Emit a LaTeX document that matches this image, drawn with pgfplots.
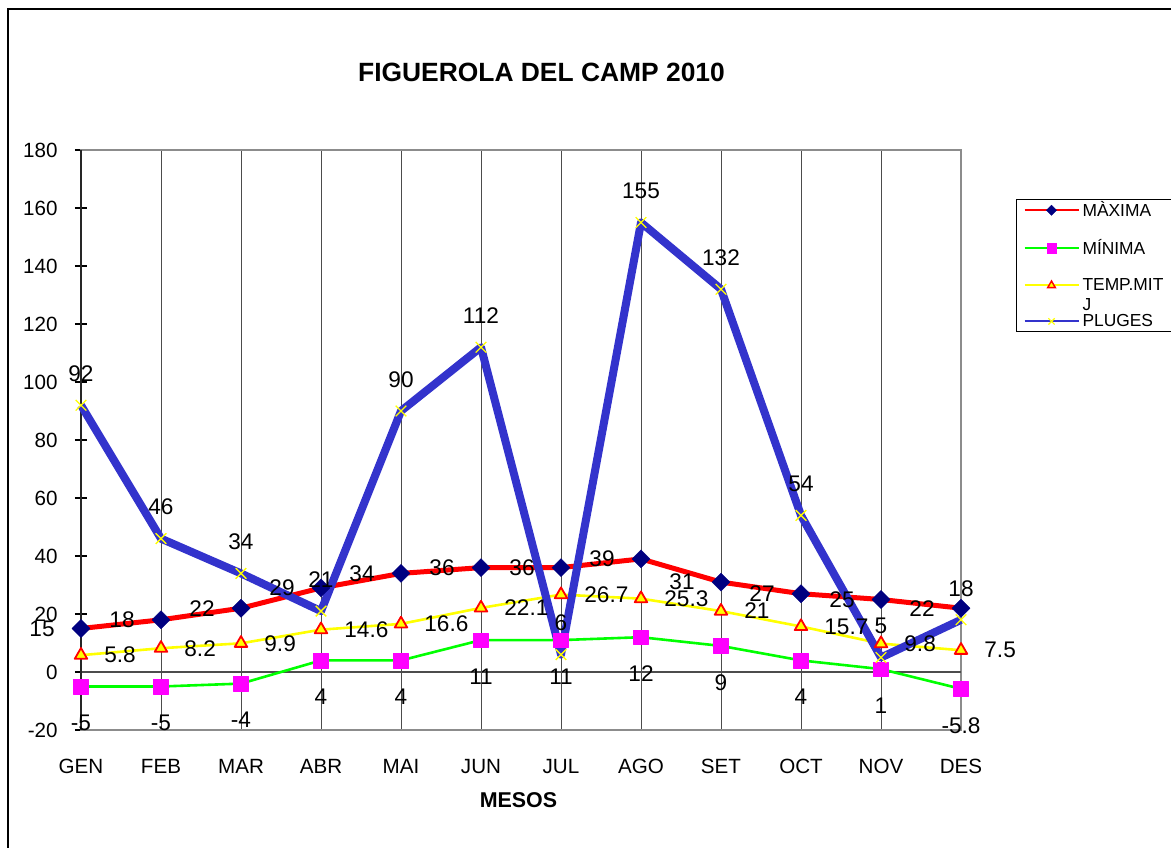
\documentclass[border=0pt]{standalone}
\usepackage{pgfplots}
\pgfplotsset{compat=1.18}
\usepackage{fontspec}
\setmainfont{Liberation Sans}
\definecolor{cred}{RGB}{255,0,0}
\definecolor{cnavy}{RGB}{0,0,128}
\definecolor{cgreen}{RGB}{0,255,0}
\definecolor{cmag}{RGB}{255,0,255}
\definecolor{cyel}{RGB}{255,255,0}
\definecolor{cblue}{RGB}{51,51,204}
\newcommand{\lbl}{\fontsize{11.3}{13}\selectfont}
\begin{document}
\begin{tikzpicture}
\useasboundingbox (-40.5pt,-58.5pt) rectangle (545pt,365pt);
\draw[line width=1pt, black] (-36.5pt,-70pt) -- (-36.5pt,360.5pt) -- (560pt,360.5pt);
\begin{axis}[
  at={(0pt,0pt)}, anchor=south west,
  scale only axis, width=440pt, height=290pt,
  xmin=0, xmax=11, ymin=-20, ymax=180,
  xtick={0,...,11},
  xticklabels={GEN,FEB,MAR,ABR,MAI,JUN,JUL,AGO,SET,OCT,NOV,DES},
  ytick={-20,0,...,180},
  xmajorgrids, major grid style={black!70, line width=0.5pt},
  axis line style={draw=black!45, line width=1pt},
  ytick pos=left,
  xtick style={draw=none},
  ytick style={black, line width=0.6pt},
  tick align=center, major tick length=6pt,
  ticklabel style={font=\fontsize{10.3}{12}\selectfont},
  /pgf/number format/assume math mode=true,
  yticklabel style={anchor=east, inner sep=0pt, xshift=-8.5pt},
  xticklabel style={anchor=north, inner sep=0pt, yshift=-11.5pt},
  clip=false,
  legend style={at={(1.0625,0.9155)}, anchor=north west, draw=black, line width=0.5pt,
     inner xsep=3.5pt, inner ysep=0.85pt, font=\fontsize{8.7}{10}\selectfont,
     row sep=10pt, nodes={inner xsep=1.5pt, inner ysep=0pt}, cells={anchor=west}},
  legend cell align=left,
  legend image code/.code={\draw[mark repeat=2,mark phase=2,#1] plot coordinates {(0pt,0pt) (13.5pt,0pt) (27pt,0pt)};},
]
\draw[black!70, line width=0.6pt] (axis cs:0,0) -- (axis cs:11,0);
\draw[black!85, line width=1pt] (rel axis cs:0,0) -- (rel axis cs:0,1);

% MAXIMA
\addplot[forget plot, cred, line width=2.5pt, line join=round, mark=square*,
  mark options={solid, fill=cnavy, draw=cnavy, rotate=45, mark size=3.2pt, line width=0.2pt}]
  coordinates {(0,15)(1,18)(2,22)(3,29)(4,34)(5,36)(6,36)(7,39)(8,31)(9,27)(10,25)(11,22)};
% MINIMA
\addplot[forget plot, cgreen, line width=1.3pt, line join=round, mark=square*,
  mark options={solid, fill=cmag, draw=cmag, mark size=3.7pt, line width=0.2pt}]
  coordinates {(0,-5)(1,-5)(2,-4)(3,4)(4,4)(5,11)(6,11)(7,12)(8,9)(9,4)(10,1)(11,-5.8)};
% TEMP MITJ
\addplot[forget plot, cyel, line width=1.3pt, line join=round, mark=triangle*,
  mark options={solid, fill=cyel, draw=cred, mark size=3.6pt, line width=0.9pt}]
  coordinates {(0,5.8)(1,8.2)(2,9.9)(3,14.6)(4,16.6)(5,22.1)(6,26.7)(7,25.3)(8,21)(9,15.7)(10,9.8)(11,7.5)};
% PLUGES
\addplot[forget plot, cblue, line width=4pt, line join=round, mark=x,
  mark options={solid, draw=cyel, mark size=3.75pt, line width=0.65pt}]
  coordinates {(0,92)(1,46)(2,34)(3,21)(4,90)(5,112)(6,6)(7,155)(8,132)(9,54)(10,5)(11,18)};

% labels
\addplot[forget plot, draw=none, point meta=explicit symbolic, nodes near coords,
  every node near coord/.append style={anchor=east, xshift=-13pt, yshift=0pt, inner sep=0pt, font=\lbl, text=black}]
  coordinates {(0,15)[15](1,18)[18](2,22)[22](3,29)[29](4,34)[34](5,36)[36](6,36)[36](7,39)[39](8,31)[31](9,27)[27](10,25)[25](11,22)[22]};
\addplot[forget plot, draw=none, point meta=explicit symbolic, nodes near coords,
  every node near coord/.append style={anchor=north, yshift=-14pt, xshift=0pt, inner sep=0pt, font=\lbl, text=black}]
  coordinates {(0,-5)[-5](1,-5)[-5](2,-4)[-4](3,4)[4](4,4)[4](5,11)[11](6,11)[11](7,12)[12](8,9)[9](9,4)[4](10,1)[1](11,-5.8)[-5.8]};
\addplot[forget plot, draw=none, point meta=explicit symbolic, nodes near coords,
  every node near coord/.append style={anchor=west, xshift=11.5pt, yshift=0pt, inner sep=0pt, font=\lbl, text=black}]
  coordinates {(0,5.8)[5.8](1,8.2)[8.2](2,9.9)[9.9](3,14.6)[14.6](4,16.6)[16.6](5,22.1)[22.1](6,26.7)[26.7](7,25.3)[25.3](8,21)[21](9,15.7)[15.7](10,9.8)[9.8](11,7.5)[7.5]};
\addplot[forget plot, draw=none, point meta=explicit symbolic, nodes near coords,
  every node near coord/.append style={anchor=south, yshift=11.5pt, xshift=0pt, inner sep=0pt, font=\lbl, text=black}]
  coordinates {(0,92)[92](1,46)[46](2,34)[34](3,21)[21](4,90)[90](5,112)[112](6,6)[6](7,155)[155](8,132)[132](9,54)[54](10,5)[5](11,18)[18]};

% legend
\addlegendimage{cred, line width=1pt, mark=square*, mark options={solid, fill=cnavy, draw=cnavy, rotate=45, mark size=1.8pt, line width=0.2pt}}
\addlegendentry{\rule[-2pt]{0pt}{8.5pt}\makebox[55pt][l]{MÀXIMA}}
\addlegendimage{cgreen, line width=1pt, mark=square*, mark options={solid, fill=cmag, draw=cmag, mark size=2.4pt, line width=0.2pt}}
\addlegendentry{\rule[-2pt]{0pt}{8.5pt}MÍNIMA}
\addlegendimage{cyel, line width=1pt, mark=triangle*, mark options={solid, fill=cyel, draw=cred, mark size=2.2pt, line width=0.7pt}}
\addlegendentry{\rule[-2pt]{0pt}{8.5pt}\smash{\begin{tabular}[t]{@{}l@{}}TEMP.MIT\\J\end{tabular}}}
\addlegendimage{cblue, line width=1pt, mark=x, mark options={solid, draw=cyel, mark size=2.2pt, line width=0.6pt}}
\addlegendentry{\rule[-9.3pt]{0pt}{15.8pt}PLUGES}
\end{axis}
\node[font=\bfseries\fontsize{13.2}{15}\selectfont] at (230.25pt,329pt) {FIGUEROLA DEL CAMP 2010};
\node[font=\bfseries\fontsize{10.7}{12}\selectfont] at (218.75pt,-35pt) {MESOS};
\end{tikzpicture}
\end{document}
